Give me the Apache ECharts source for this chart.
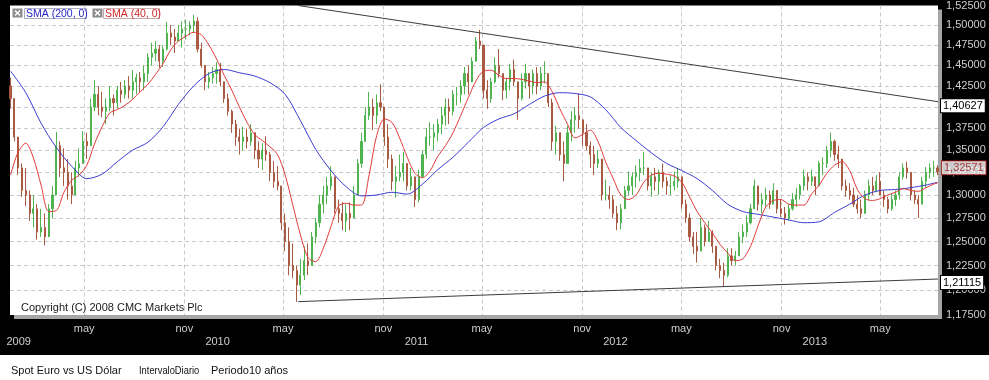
<!DOCTYPE html>
<html>
<head>
<meta charset="utf-8">
<script src="https://cdn.jsdelivr.net/npm/echarts@6.0.0/dist/echarts.min.js"></script>
<style>
html,body{margin:0;padding:0;background:#fff;}
#chart{width:989px;height:380px;background:linear-gradient(to bottom,#000 0,#000 355px,#fff 355px,#fff 380px);}
</style>
</head>
<body>
<div id="chart"></div>
<script>
const DAY = 86400000;
const ts = s => Date.parse(s + 'T00:00:00Z');

// axis range and weekly bars (one bar per week, first bar on 2008-12-17)
const axisStart = '2008-12-16';
const axisEnd = '2013-08-15';
const firstWeek = '2008-12-17';
const firstOpen = 1.425;

const priceClose = [
1.41,1.365,1.33,1.305,1.30,1.28,1.285,1.26,1.265,1.255,
1.285,1.30,1.355,1.33,1.325,1.31,1.30,1.33,1.335,1.36,
1.355,1.40,1.415,1.40,1.395,1.40,1.41,1.405,1.42,1.415,
1.425,1.42,1.43,1.435,1.43,1.44,1.46,1.465,1.47,1.455,
1.47,1.49,1.485,1.48,1.49,1.495,1.495,1.50,1.505,1.47,
1.45,1.43,1.435,1.44,1.445,1.43,1.41,1.395,1.38,1.365,
1.36,1.365,1.36,1.37,1.35,1.34,1.35,1.345,1.325,1.315,
1.31,1.27,1.25,1.225,1.22,1.205,1.215,1.23,1.225,1.255,
1.27,1.29,1.30,1.31,1.32,1.285,1.28,1.272,1.28,1.275,
1.30,1.335,1.36,1.39,1.40,1.39,1.405,1.40,1.365,1.34,
1.315,1.32,1.325,1.335,1.31,1.32,1.295,1.32,1.345,1.365,
1.365,1.37,1.38,1.39,1.40,1.395,1.415,1.415,1.425,1.44,
1.43,1.455,1.48,1.475,1.42,1.41,1.43,1.45,1.44,1.42,
1.43,1.445,1.43,1.41,1.43,1.44,1.425,1.44,1.425,1.44,
1.44,1.405,1.36,1.37,1.345,1.335,1.37,1.385,1.39,1.385,
1.37,1.355,1.345,1.335,1.34,1.30,1.30,1.295,1.28,1.27,
1.285,1.305,1.31,1.32,1.325,1.33,1.33,1.31,1.32,1.315,
1.325,1.315,1.31,1.31,1.315,1.32,1.29,1.275,1.255,1.245,
1.24,1.265,1.25,1.26,1.245,1.225,1.22,1.215,1.235,1.23,
1.235,1.255,1.26,1.27,1.285,1.31,1.29,1.295,1.30,1.29,
1.305,1.285,1.28,1.275,1.285,1.295,1.30,1.31,1.32,1.315,
1.32,1.31,1.335,1.335,1.35,1.36,1.345,1.34,1.31,1.305,
1.30,1.29,1.285,1.28,1.30,1.31,1.305,1.315,1.30,1.295,
1.285,1.295,1.30,1.32,1.33,1.325,1.30,1.295,1.29,1.315,
1.325,1.33,1.33,1.32571
];
const priceHigh = [
1.435,1.40,1.352,1.335,1.33,1.305,1.30,1.29,1.285,1.28,
1.29,1.31,1.371,1.36,1.352,1.34,1.325,1.338,1.352,1.372,
1.37,1.41,1.432,1.425,1.418,1.41,1.425,1.415,1.425,1.43,
1.432,1.437,1.444,1.44,1.442,1.45,1.465,1.478,1.48,1.475,
1.475,1.504,1.50,1.495,1.50,1.505,1.507,1.505,1.513,1.51,
1.478,1.447,1.442,1.448,1.454,1.453,1.428,1.416,1.397,1.385,
1.375,1.377,1.375,1.38,1.37,1.36,1.358,1.366,1.348,1.338,
1.332,1.31,1.28,1.265,1.248,1.225,1.232,1.245,1.248,1.26,
1.275,1.30,1.31,1.32,1.332,1.32,1.295,1.292,1.29,1.292,
1.31,1.34,1.37,1.40,1.418,1.41,1.415,1.427,1.40,1.38,
1.345,1.332,1.345,1.348,1.335,1.33,1.32,1.328,1.35,1.375,
1.382,1.38,1.386,1.40,1.41,1.41,1.42,1.424,1.432,1.448,
1.45,1.46,1.485,1.494,1.475,1.432,1.435,1.46,1.47,1.44,
1.435,1.452,1.457,1.43,1.44,1.452,1.435,1.445,1.448,1.448,
1.455,1.44,1.41,1.378,1.37,1.36,1.378,1.395,1.40,1.416,
1.385,1.38,1.36,1.355,1.35,1.34,1.317,1.31,1.30,1.288,
1.29,1.31,1.326,1.325,1.333,1.34,1.348,1.33,1.325,1.33,
1.328,1.335,1.32,1.322,1.326,1.33,1.32,1.295,1.28,1.26,
1.26,1.275,1.268,1.272,1.262,1.245,1.232,1.228,1.243,1.243,
1.24,1.26,1.268,1.278,1.29,1.317,1.31,1.302,1.308,1.305,
1.313,1.305,1.295,1.287,1.29,1.302,1.308,1.312,1.328,1.325,
1.328,1.32,1.338,1.342,1.355,1.37,1.362,1.355,1.34,1.317,
1.313,1.308,1.30,1.295,1.305,1.317,1.32,1.322,1.325,1.305,
1.298,1.302,1.305,1.325,1.335,1.337,1.325,1.305,1.30,1.32,
1.331,1.335,1.338,1.333
];
const priceLow = [
1.398,1.36,1.322,1.298,1.288,1.272,1.265,1.252,1.255,1.246,
1.255,1.275,1.30,1.32,1.31,1.295,1.29,1.30,1.32,1.335,
1.34,1.355,1.395,1.39,1.388,1.38,1.395,1.39,1.398,1.405,
1.41,1.41,1.41,1.415,1.418,1.42,1.43,1.45,1.455,1.447,
1.448,1.468,1.475,1.465,1.48,1.472,1.482,1.487,1.49,1.466,
1.447,1.42,1.422,1.428,1.428,1.425,1.405,1.39,1.37,1.355,
1.345,1.35,1.352,1.355,1.34,1.33,1.328,1.338,1.315,1.308,
1.305,1.262,1.24,1.215,1.212,1.188,1.195,1.21,1.215,1.225,
1.248,1.265,1.28,1.29,1.305,1.28,1.27,1.262,1.26,1.262,
1.275,1.30,1.33,1.36,1.385,1.373,1.38,1.395,1.355,1.33,
1.305,1.297,1.315,1.315,1.305,1.305,1.287,1.292,1.32,1.34,
1.355,1.35,1.36,1.368,1.378,1.38,1.39,1.402,1.405,1.415,
1.415,1.435,1.455,1.47,1.41,1.398,1.405,1.428,1.435,1.408,
1.41,1.42,1.425,1.385,1.408,1.422,1.41,1.415,1.415,1.42,
1.428,1.40,1.35,1.345,1.338,1.315,1.335,1.36,1.37,1.375,
1.355,1.35,1.33,1.322,1.33,1.294,1.294,1.285,1.275,1.262,
1.263,1.285,1.30,1.30,1.308,1.315,1.322,1.305,1.298,1.305,
1.30,1.308,1.30,1.30,1.305,1.308,1.285,1.27,1.25,1.237,
1.228,1.24,1.245,1.25,1.238,1.22,1.212,1.204,1.213,1.225,
1.225,1.235,1.248,1.255,1.268,1.285,1.283,1.28,1.287,1.285,
1.29,1.28,1.276,1.268,1.272,1.283,1.287,1.295,1.305,1.305,
1.31,1.30,1.315,1.322,1.33,1.342,1.338,1.33,1.305,1.298,
1.295,1.287,1.28,1.275,1.28,1.294,1.30,1.303,1.30,1.287,
1.28,1.283,1.288,1.295,1.317,1.318,1.294,1.29,1.275,1.29,
1.308,1.318,1.32,1.322
];

// moving averages (SMA 200 every 4 weeks, SMA 40 every 2 weeks)
const sma200Step = 4;
const sma200 = [
1.443,1.417,1.381,1.353,1.332,1.318,1.323,1.337,1.35,1.359,
1.377,1.403,1.425,1.44,1.445,1.441,1.437,1.429,1.415,1.384,
1.351,1.327,1.309,1.299,1.30,1.303,1.301,1.312,1.328,1.342,
1.359,1.376,1.386,1.392,1.403,1.413,1.417,1.416,1.412,1.397,
1.376,1.361,1.347,1.335,1.327,1.318,1.305,1.29,1.282,1.279,
1.276,1.273,1.27,1.271,1.281,1.29,1.30,1.305,1.306,1.308,
1.311,1.314
];
const sma40Step = 2;
const sma40 = [
1.322,1.348,1.358,1.341,1.311,1.282,1.283,1.303,1.316,1.322,
1.333,1.357,1.377,1.393,1.397,1.402,1.409,1.418,1.427,1.439,
1.452,1.469,1.48,1.486,1.491,1.488,1.475,1.458,1.438,1.42,
1.40,1.382,1.368,1.361,1.354,1.345,1.322,1.289,1.257,1.233,
1.229,1.243,1.266,1.288,1.291,1.289,1.289,1.322,1.367,1.386,
1.382,1.364,1.342,1.324,1.319,1.327,1.343,1.355,1.37,1.39,
1.411,1.431,1.443,1.444,1.438,1.434,1.434,1.433,1.431,1.429,
1.43,1.418,1.398,1.38,1.364,1.368,1.373,1.36,1.337,1.318,
1.30,1.295,1.30,1.314,1.322,1.324,1.323,1.321,1.314,1.298,
1.282,1.27,1.259,1.247,1.238,1.23,1.232,1.245,1.267,1.287,
1.294,1.295,1.29,1.289,1.289,1.301,1.311,1.324,1.333,1.337,
1.327,1.306,1.296,1.294,1.296,1.30,1.303,1.307,1.305,1.304,
1.308,1.312,1.313
];

// trend lines and price tags
const trendUpper = [['2010-05-29', 1.525], ['2013-08-15', 1.40627]];
const trendLower = [['2010-05-29', 1.1883], ['2013-08-15', 1.21115]];
const lastPrice = 1.32571;

// tick labels
const yTicks = [1.175,1.2,1.225,1.25,1.275,1.3,1.325,1.35,1.375,1.4,1.425,1.45,1.475,1.5,1.525];
const yGrid = [1.2,1.225,1.25,1.275,1.3,1.325,1.35,1.375,1.4,1.425,1.45,1.475,1.5];
const monthTicks = ['2009-05-01','2009-11-01','2010-05-01','2010-11-01','2011-05-01','2011-11-01','2012-05-01','2012-11-01','2013-05-01'];
const monthNames = {4: 'may', 10: 'nov'};
const yearTicks = ['2009-01-01','2010-01-01','2011-01-01','2012-01-01','2013-01-01'];

const FONT = '"Liberation Sans", Arial, sans-serif';
const weekT0 = ts(firstWeek);
const lastIdx = priceClose.length - 1;
const weekTime = i => weekT0 + Math.min(i, lastIdx) * 7 * DAY;

const candles = priceClose.map((c, i) => [weekTime(i), i ? priceClose[i - 1] : firstOpen, c, priceLow[i], priceHigh[i]]);
const smaPts = (vals, step) => vals.map((v, k) => [weekTime(k * step), v]);
const fmtNum = v => Number(v).toFixed(5).replace('.', ',');
const tagLabel = (color, offY) => ({
  show: true, formatter: p => fmtNum(p.value[1]), color: color, fontFamily: FONT, fontSize: 11,
  backgroundColor: '#fff', borderColor: color, borderWidth: 1, padding: [1, 2, 0, 2], lineHeight: 12,
  distance: 3, offset: [0, offY]
});

const chart = echarts.init(document.getElementById('chart'), null, {renderer: 'canvas'});
chart.setOption({
  animation: false,
  grid: {left: 10, right: 51, top: 5, bottom: 65, show: true, backgroundColor: '#fff', borderWidth: 0,
         shadowColor: '#a6a6a6', shadowOffsetX: 4, shadowOffsetY: 4, shadowBlur: 0},
  xAxis: [{
    type: 'value', min: ts(axisStart), max: ts(axisEnd), position: 'bottom',
    axisLine: {show: false}, axisTick: {show: false, customValues: monthTicks.map(ts)},
    splitLine: {show: true, lineStyle: {color: '#c8c8c8', type: [4, 3], width: 1}},
    axisLabel: {customValues: monthTicks.map(ts), formatter: v => monthNames[new Date(v).getUTCMonth()],
                color: '#cfcfcf', fontFamily: FONT, fontSize: 11, margin: 8}
  }, {
    type: 'value', min: ts(axisStart), max: ts(axisEnd), position: 'bottom', offset: 13,
    axisLine: {show: false}, axisTick: {show: false}, splitLine: {show: false},
    axisLabel: {customValues: yearTicks.map(ts), formatter: v => String(new Date(v).getUTCFullYear()),
                color: '#cfcfcf', fontFamily: FONT, fontSize: 11, margin: 8}
  }],
  yAxis: {
    type: 'log', min: 1.175, max: 1.525, position: 'right',
    axisLine: {show: false}, axisTick: {show: false, customValues: yGrid},
    splitLine: {show: true, lineStyle: {color: '#c8c8c8', type: [4, 3], width: 1}},
    axisLabel: {customValues: yTicks, formatter: v => fmtNum(v), color: '#cfcfcf', fontFamily: FONT, fontSize: 11, margin: 8}
  },
  series: [{
    type: 'candlestick', name: 'EURUSD', data: candles, encode: {x: 0, y: [1, 2, 3, 4]}, barWidth: 1.6,
    itemStyle: {color: '#4fb44f', color0: '#a85a42', borderColor: '#4fb44f', borderColor0: '#a85a42', borderWidth: 1},
    z: 2
  }, {
    type: 'line', name: 'SMA (200, 0)', data: smaPts(sma200, sma200Step), showSymbol: false, smooth: 0.3,
    lineStyle: {color: '#3c3cd2', width: 1}, z: 3
  }, {
    type: 'line', name: 'SMA (40, 0)', data: smaPts(sma40, sma40Step), showSymbol: false, smooth: 0.3,
    lineStyle: {color: '#e23a3a', width: 1}, z: 4
  }, {
    type: 'line', name: 'upper', data: trendUpper.map(d => [ts(d[0]), d[1]]), showSymbol: false,
    lineStyle: {color: '#3c3c3c', width: 1}, endLabel: tagLabel('#000', 4), z: 5
  }, {
    type: 'line', name: 'lower', data: trendLower.map(d => [ts(d[0]), d[1]]), showSymbol: false,
    lineStyle: {color: '#3c3c3c', width: 1}, endLabel: tagLabel('#000', 3.5), z: 5
  }, {
    type: 'scatter', name: 'last', data: [[weekTime(lastIdx), lastPrice]], symbolSize: 1,
    itemStyle: {color: 'rgba(0,0,0,0)'}, clip: false,
    label: Object.assign(tagLabel('#a01414', -4), {position: 'right', distance: 4}), z: 6
  }],
  graphic: [
    {type: 'rect', z: 100, shape: {x: 12.5, y: 8.5, width: 10, height: 9}, style: {fill: '#8c8c8c'}},
    {type: 'line', z: 101, shape: {x1: 15, y1: 10.5, x2: 20, y2: 15.5}, style: {stroke: '#fff', lineWidth: 1.5}},
    {type: 'line', z: 101, shape: {x1: 20, y1: 10.5, x2: 15, y2: 15.5}, style: {stroke: '#fff', lineWidth: 1.5}},
    {type: 'rect', z: 100, shape: {x: 24.5, y: 8.5, width: 62, height: 10}, style: {fill: '#fff', stroke: '#aaaac4', lineWidth: 1}},
    {type: 'text', z: 101, x: 26, y: 14, style: {text: 'SMA (200, 0)', fill: '#2424c4', font: '10.5px ' + FONT, verticalAlign: 'middle'}},
    {type: 'rect', z: 100, shape: {x: 92.5, y: 8.5, width: 10, height: 9}, style: {fill: '#8c8c8c'}},
    {type: 'line', z: 101, shape: {x1: 95, y1: 10.5, x2: 100, y2: 15.5}, style: {stroke: '#fff', lineWidth: 1.5}},
    {type: 'line', z: 101, shape: {x1: 100, y1: 10.5, x2: 95, y2: 15.5}, style: {stroke: '#fff', lineWidth: 1.5}},
    {type: 'rect', z: 100, shape: {x: 103.5, y: 8.5, width: 56, height: 10}, style: {fill: '#fff', stroke: '#c8aaaa', lineWidth: 1}},
    {type: 'text', z: 101, x: 105, y: 14, style: {text: 'SMA (40, 0)', fill: '#d02424', font: '10.5px ' + FONT, verticalAlign: 'middle'}},
    {type: 'text', z: 100, x: 21, y: 307.5, style: {text: 'Copyright (C) 2008 CMC Markets Plc', fill: '#1a1a1a', font: '11px ' + FONT, verticalAlign: 'middle'}},
    {type: 'text', z: 100, x: 11, y: 371, style: {text: 'Spot Euro vs US Dólar', fill: '#111', font: '11px ' + FONT, verticalAlign: 'middle'}},
    {type: 'text', z: 100, x: 139, y: 371, scaleX: 0.85, style: {text: 'IntervaloDiario', fill: '#111', font: '11px ' + FONT, verticalAlign: 'middle'}},
    {type: 'text', z: 100, x: 211, y: 371, style: {text: 'Periodo10 años', fill: '#111', font: '11px ' + FONT, verticalAlign: 'middle'}}
  ]
});
</script>
</body>
</html>
